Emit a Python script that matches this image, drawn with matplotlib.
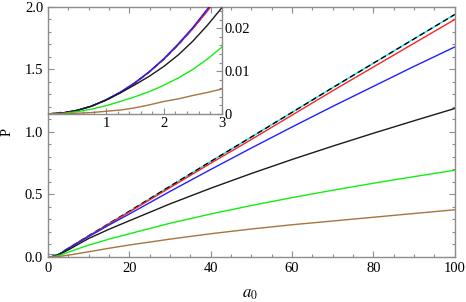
import matplotlib
matplotlib.use("Agg")
import matplotlib.pyplot as plt
from matplotlib.ticker import MultipleLocator, FixedLocator
from matplotlib.patches import Rectangle

plt.rcParams['font.family'] = ['Liberation Serif', 'DejaVu Serif']
plt.rcParams['mathtext.fontset'] = 'stix'
plt.rcParams['font.size'] = 10.5

# main panel
a0 = [0, 1, 2, 3, 4, 6, 8, 10, 15, 20, 30, 40, 50, 60, 70, 80, 90, 100]
p_dash = [0, 0.003, 0.012, 0.027, 0.05, 0.09, 0.13, 0.17, 0.268, 0.366, 0.566, 0.764, 0.96, 1.157, 1.355, 1.55, 1.745, 1.94]
p_red = [0, 0.003, 0.012, 0.026, 0.049, 0.089, 0.129, 0.168, 0.265, 0.36, 0.555, 0.75, 0.94, 1.135, 1.33, 1.52, 1.71, 1.90]
p_blue = [0, 0.003, 0.012, 0.026, 0.048, 0.087, 0.126, 0.163, 0.256, 0.344, 0.525, 0.70, 0.872, 1.04, 1.205, 1.365, 1.525, 1.68]
p_black = [0, 0.003, 0.011, 0.025, 0.04, 0.075, 0.112, 0.148, 0.222, 0.29, 0.425, 0.55, 0.668, 0.78, 0.887, 0.99, 1.09, 1.188]
p_green = [0, 0.0019, 0.0067, 0.0157, 0.026, 0.05, 0.073, 0.095, 0.143, 0.186, 0.27, 0.344, 0.412, 0.475, 0.534, 0.59, 0.643, 0.694]
p_brown = [0, 0.0006, 0.0029, 0.0058, 0.01, 0.02, 0.031, 0.042, 0.07, 0.096, 0.143, 0.186, 0.224, 0.258, 0.288, 0.318, 0.348, 0.378]

# inset, small a0
a0_in = [0, 0.25, 0.5, 0.75, 1, 1.25, 1.5, 1.75, 2, 2.25, 2.5, 2.75, 3]
in_dash = [0, 0.0002, 0.0008, 0.0018, 0.0032, 0.005, 0.0072, 0.0098, 0.0128, 0.0162, 0.020, 0.0242, 0.0288]
in_red = [0, 0.0002, 0.0008, 0.0018, 0.0032, 0.005, 0.0072, 0.0098, 0.0128, 0.0162, 0.0199, 0.0240, 0.0285]
in_blue = [0, 0.0002, 0.0008, 0.0018, 0.0033, 0.0051, 0.0073, 0.0099, 0.0129, 0.0164, 0.0202, 0.0245, 0.0290]
in_black = [0, 0.0002, 0.0008, 0.0018, 0.0032, 0.0049, 0.0068, 0.0088, 0.0111, 0.0138, 0.017, 0.0207, 0.0248]
in_green = [0, 0.0001, 0.0005, 0.0011, 0.0019, 0.0029, 0.004, 0.0052, 0.0067, 0.0084, 0.0104, 0.0128, 0.0156]
in_brown = [0, 0.00003, 0.00015, 0.0003, 0.0006, 0.0009, 0.0014, 0.0021, 0.0029, 0.0035, 0.0043, 0.005, 0.0058]

cyan = '#00e8f0'
red = '#ff2020'
blue = '#2020ff'
black = '#1a1a1a'
green = '#10f010'
brown = '#a8743f'
frame = '#8c8c8c'

fig = plt.figure(figsize=(4.66, 3.02), dpi=100)
ax = fig.add_axes([0.103, 0.149, 0.873, 0.828])

def curves(a, x, d, r, b, k, g, br):
    a.plot(x, d, color=cyan, lw=1.0)
    a.plot(x, d, color='black', lw=1.0, ls=(0, (4, 2.5)))
    a.plot(x, r, color=red, lw=1.0)
    a.plot(x, b, color=blue, lw=1.0)
    a.plot(x, k, color=black, lw=1.0)
    a.plot(x, g, color=green, lw=1.0)
    a.plot(x, br, color=brown, lw=1.0)

curves(ax, a0, p_dash, p_red, p_blue, p_black, p_green, p_brown)
ax.set_xlim(0, 100)
ax.set_ylim(0, 2.0)
ax.xaxis.set_major_locator(MultipleLocator(20))
ax.xaxis.set_minor_locator(MultipleLocator(5))
ax.yaxis.set_major_locator(MultipleLocator(0.5))
ax.yaxis.set_minor_locator(MultipleLocator(0.1))
ax.yaxis.set_major_formatter(plt.FormatStrFormatter('%.1f'))
ax.tick_params(which='both', direction='in', top=True, right=True, color=frame, width=0.8)
ax.tick_params(which='major', length=4)
ax.tick_params(which='minor', length=2)
for s in ax.spines.values():
    s.set_color(frame)
    s.set_linewidth(1.0)
ax.set_xlabel('$a_0$', fontsize=12)
ax.set_ylabel('P')
ax.xaxis.set_label_coords(0.496, -0.115)
ax.yaxis.set_label_coords(-0.085, 0.5)

# marker of the zoomed region
ax.add_patch(Rectangle((0, 0), 3, 0.025, fill=False, edgecolor=frame, lw=0.8))

ins = fig.add_axes([0.103, 0.623, 0.373, 0.354])
ins.patch.set_alpha(0)
curves(ins, a0_in, in_dash, in_red, in_blue, in_black, in_green, in_brown)
ins.set_xlim(0, 3)
ins.set_ylim(0, 0.025)
ins.xaxis.set_major_locator(FixedLocator([1, 2, 3]))
ins.xaxis.set_minor_locator(MultipleLocator(0.2))
ins.yaxis.set_major_locator(FixedLocator([0, 0.01, 0.02]))
ins.yaxis.set_minor_locator(MultipleLocator(0.002))
ins.yaxis.set_major_formatter(plt.FuncFormatter(lambda v, p: '0' if v == 0 else ('%.2f' % v)))
ins.yaxis.tick_right()
ins.tick_params(which='both', direction='in', color=frame, width=0.8, left=False, top=False, pad=2)
ins.tick_params(which='major', length=4)
ins.tick_params(which='minor', length=2)
for s in ins.spines.values():
    s.set_color(frame)
    s.set_linewidth(1.0)
ins.spines['left'].set_visible(False)
ins.spines['top'].set_visible(False)

fig.savefig('out.png', dpi=100)
